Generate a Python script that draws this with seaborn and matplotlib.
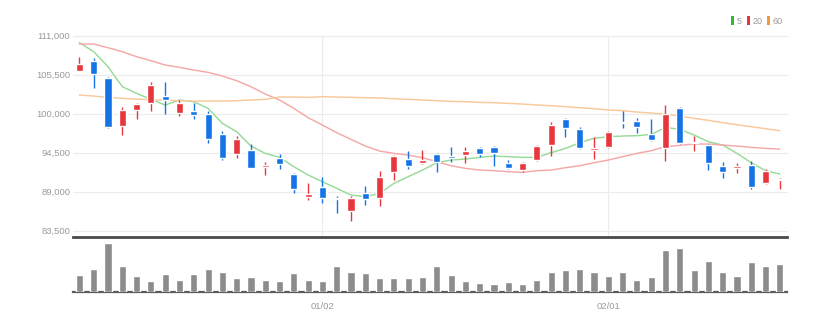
import matplotlib
matplotlib.use("Agg")
import matplotlib.pyplot as plt
from matplotlib.patches import Patch
import numpy as np
import pandas as pd
import seaborn as sns

# Daily sessions (oldest first)
opens = [106064, 107474, 104983, 98260, 100470, 101551, 102444, 100047, 100423, 100000,
         97132, 94264, 94875, 92431, 93700, 91491, 88294, 89704, 88153, 86319,
         88764, 88059, 91820, 93559, 92995, 94264, 94076, 94170, 95111, 95252,
         92995, 92055, 93465, 95581, 99200, 97790, 94875, 95346, 98871, 98965,
         97132, 95111, 100752, 95816, 95581, 92666, 92384, 92760, 90174, 90597]
highs = [107991, 107897, 105124, 100893, 101504, 104465, 104465, 101927, 101551, 100423,
         97555, 96897, 95722, 93136, 94311, 91585, 90268, 91115, 88388, 88388,
         89845, 91914, 94170, 94734, 94875, 94499, 95346, 95346, 95252, 95440,
         93465, 93230, 95581, 98871, 99341, 98166, 96756, 97555, 100376, 99341,
         99200, 101222, 100893, 96850, 95722, 93230, 93089, 93371, 92149, 90926]
lows = [106064, 103572, 98025, 96944, 99247, 100423, 99906, 99717, 99247, 95816,
        93465, 93794, 92290, 91350, 92196, 88764, 87824, 87354, 85943, 84862,
        87072, 87025, 90644, 92243, 92854, 91820, 93230, 93089, 93935, 92666,
        92196, 91820, 93371, 94029, 96756, 94969, 93559, 95205, 97931, 97226,
        96192, 93371, 95722, 94781, 92055, 90879, 91585, 89422, 90080, 89328]
closes = [106957, 105547, 98119, 100517, 101410, 104042, 101927, 101457, 99811, 96427,
          93747, 96427, 92384, 92713, 92901, 89375, 88623, 88059, 87918, 88059,
          87918, 91115, 94076, 92666, 93465, 93136, 93794, 94687, 94264, 94499,
          92290, 92995, 95440, 98401, 97931, 95111, 95111, 97414, 98636, 98166,
          96286, 99953, 95816, 96051, 93089, 91820, 92619, 89704, 91961, 90832]
volumes = [500000, 680000, 1470000, 790000, 470000, 340000, 550000, 370000, 550000, 680000,
           590000, 430000, 450000, 370000, 340000, 570000, 370000, 320000, 790000, 590000,
           570000, 430000, 410000, 430000, 450000, 770000, 520000, 340000, 270000, 250000,
           300000, 250000, 370000, 610000, 660000, 690000, 590000, 480000, 590000, 370000,
           460000, 1260000, 1310000, 660000, 920000, 590000, 480000, 900000, 790000, 840000]

# Moving averages as published with the quote feed
ma5 = [110013, 108743, 106628, 103807, 102867, 102021, 101222, 101927, 101692, 100752,
       98636, 97461, 95440, 94405, 93841, 92525, 91350, 90409, 89469, 88529,
       88294, 88764, 90174, 91115, 92055, 93089, 93465, 93606, 93841, 94029,
       93935, 93841, 93841, 94499, 95111, 95910, 96521, 96756, 96850, 96897,
       97085, 98072, 97790, 96991, 96051, 95581, 94405, 93089, 91961, 91491]
ma20 = [109825, 109825, 109308, 108744, 108038, 107474, 106863, 106534, 106158, 105829,
        105312, 104654, 103807, 102773, 101927, 100752, 99435, 98401, 97320, 96380,
        95440, 94734, 94405, 94170, 93794, 93230, 92666, 92290, 92055, 91961,
        91820, 91726, 91961, 92055, 92384, 92666, 93089, 93465, 93935, 94405,
        94781, 95346, 95534, 95722, 95722, 95581, 95440, 95252, 95111, 95017]
ma60 = [102632, 102491, 102303, 102162, 102068, 101974, 101880, 101833, 101786, 101786,
        101786, 101833, 101927, 102021, 102350, 102350, 102303, 102397, 102350, 102303,
        102256, 102209, 102115, 102021, 101927, 101833, 101739, 101692, 101598, 101551,
        101457, 101363, 101222, 101128, 100987, 100846, 100705, 100517, 100423, 100235,
        100094, 99906, 99671, 99341, 99059, 98730, 98448, 98166, 97884, 97602]

price_ticks = [83500, 89000, 94500, 100000, 105500, 111000]
tick_sessions = [17, 37]
tick_labels = ["01/02", "02/01"]
ma_labels = ["5", "20", "60"]

UP = "#e8363d"
DOWN = "#1673e6"
MA_LINE = ["#97db97", "#f5a8a8", "#f9c89b"]
MA_KEY = ["#33bb33", "#e8363d", "#f39a3a"]
TEXT = "#9a9a9a"

sns.set_theme(style="white")
plt.rcParams["font.family"] = ["Liberation Sans Narrow", "Liberation Sans", "DejaVu Sans"]

df = pd.DataFrame({"session": np.arange(len(opens)), "open": opens, "high": highs,
                   "low": lows, "close": closes, "volume": volumes,
                   "ma5": ma5, "ma20": ma20, "ma60": ma60})
df["up"] = df["close"] >= df["open"]

W, H = 834, 329
fig = plt.figure(figsize=(W / 100, H / 100), dpi=100)


def box(x0, y0, x1, y1):
    return [x0 / W, 1 - y1 / H, (x1 - x0) / W, (y1 - y0) / H]


ax = fig.add_axes(box(73, 35.7, 787, 237))
axv = fig.add_axes(box(73, 240, 787, 292), sharex=ax)

# moving averages
for col, c in zip(["ma5", "ma20", "ma60"], MA_LINE):
    sns.lineplot(data=df, x="session", y=col, ax=ax, color=c, lw=1.05, zorder=2)

# candles: wicks then bodies
colors = np.where(df["up"], UP, DOWN)
ax.vlines(df["session"], df["low"], df["high"], colors=colors, lw=1.0, zorder=3)
body_lo = df[["open", "close"]].min(axis=1)
body_h = (df["close"] - df["open"]).abs().clip(lower=220)
ax.bar(df["session"], body_h, bottom=body_lo, width=0.5, color=colors, zorder=4)

ax.set_ylim(82612, 111000)
ax.set_yticks(price_ticks)
ax.set_yticklabels([f"{v:,}" for v in price_ticks])
ax.set_xticks(tick_sessions)
ax.grid(True, color="#ececec", lw=0.8)
for gl in ax.get_ygridlines():
    gl.set_clip_on(False)
ax.tick_params(axis="y", length=0, pad=2, labelsize=6.8, labelcolor=TEXT)
ax.tick_params(axis="x", length=0, labelbottom=False)
for s in ["top", "right", "left"]:
    ax.spines[s].set_visible(False)
ax.spines["bottom"].set_color("#4a4a4a")
ax.spines["bottom"].set_linewidth(2.0)
ax.set_xlabel("")
ax.set_ylabel("")

# volume panel
sns.barplot(data=df, x="session", y="volume", ax=axv, native_scale=True, width=0.5,
            color="#8c8c8c", saturation=1, errorbar=None, zorder=3)
axv.set_ylim(0, 1560000)
axv.set_yticks([])
axv.set_xticks(tick_sessions)
axv.set_xticklabels(tick_labels)
axv.tick_params(axis="x", length=3, width=1, color="#666666", pad=4,
                labelsize=6.8, labelcolor=TEXT, direction="out")
for s in ["top", "right", "left"]:
    axv.spines[s].set_visible(False)
axv.spines["bottom"].set_color("#5a5a5a")
axv.spines["bottom"].set_linewidth(1.6)
axv.set_xlabel("")
axv.set_ylabel("")
axv.grid(False)

ax.set_xlim(-0.45, 49.5)

handles = [Patch(facecolor=c, edgecolor="none", label=l) for c, l in zip(MA_KEY, ma_labels)]
fig.legend(handles=handles, loc="center right", bbox_to_anchor=(783 / W, 1 - 21 / H),
           ncol=3, frameon=False, fontsize=6.5, labelcolor=TEXT, handlelength=0.35,
           handleheight=1.0, handletextpad=0.3, columnspacing=0.5, borderpad=0,
           borderaxespad=0)

fig.savefig("out.png", dpi=100, facecolor="white")
